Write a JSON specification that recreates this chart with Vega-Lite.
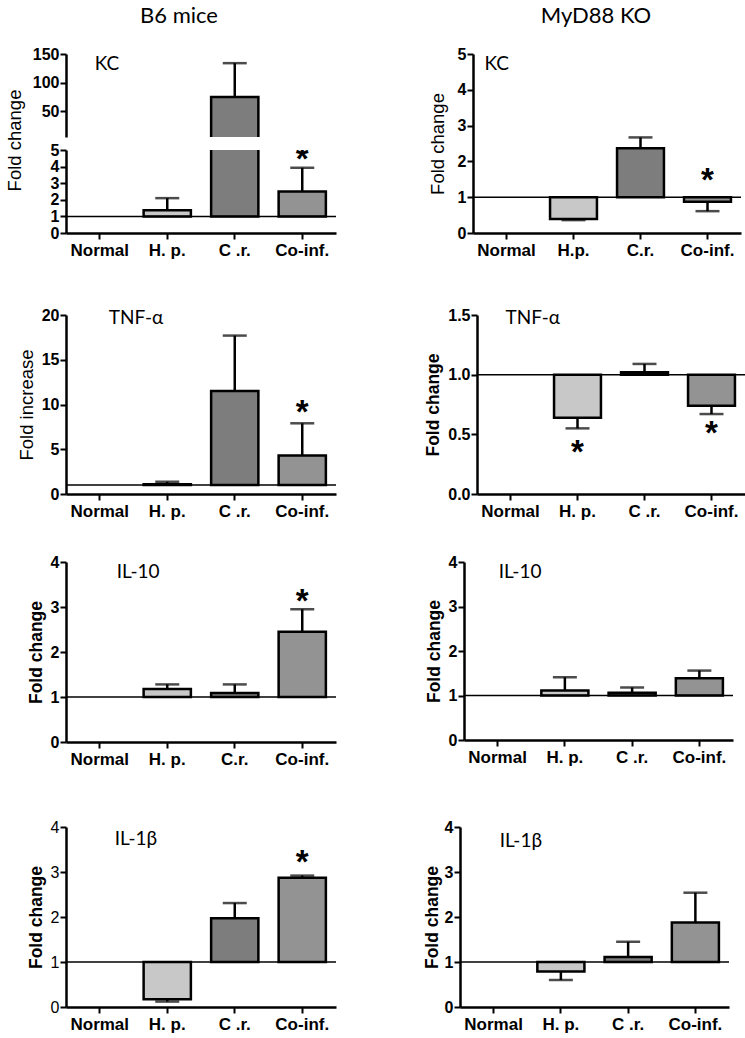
{
"$schema": "https://vega.github.io/schema/vega-lite/v6.json",
"padding": 5,
"background": "white",
"spacing": 35,
"datasets": {
"d": [
{"p":"b6kc","lab":"H. p.","g":"H","v":1.37,"e":2.1},
{"p":"b6kc","lab":"C .r.","g":"C","v":75,"e":134},
{"p":"b6kc","lab":"Co-inf.","g":"I","v":2.5,"e":3.93,"s":4.76},
{"p":"mkc","lab":"H.p.","g":"H","v":0.39,"e":0.36},
{"p":"mkc","lab":"C.r.","g":"C","v":2.37,"e":2.67},
{"p":"mkc","lab":"Co-inf.","g":"I","v":0.87,"e":0.61,"s":1.62},
{"p":"b6tnf","lab":"H. p.","g":"H","v":1.08,"e":1.37},
{"p":"b6tnf","lab":"C .r.","g":"C","v":11.5,"e":17.7},
{"p":"b6tnf","lab":"Co-inf.","g":"I","v":4.3,"e":7.9,"s":9.75},
{"p":"mtnf","lab":"H. p.","g":"H","v":0.64,"e":0.55,"s":0.39},
{"p":"mtnf","lab":"C .r.","g":"C","v":1.02,"e":1.09},
{"p":"mtnf","lab":"Co-inf.","g":"I","v":0.74,"e":0.67,"s":0.55},
{"p":"b6il10","lab":"H. p.","g":"H","v":1.18,"e":1.28},
{"p":"b6il10","lab":"C.r.","g":"C","v":1.09,"e":1.28},
{"p":"b6il10","lab":"Co-inf.","g":"I","v":2.45,"e":2.95,"s":3.24},
{"p":"mil10","lab":"H. p.","g":"H","v":1.11,"e":1.41},
{"p":"mil10","lab":"C .r.","g":"C","v":1.06,"e":1.18},
{"p":"mil10","lab":"Co-inf.","g":"I","v":1.39,"e":1.56},
{"p":"b6il1b","lab":"H. p.","g":"H","v":0.17,"e":0.12},
{"p":"b6il1b","lab":"C .r.","g":"C","v":1.97,"e":2.31},
{"p":"b6il1b","lab":"Co-inf.","g":"I","v":2.87,"e":2.92,"s":3.33},
{"p":"mil1b","lab":"H. p.","g":"H","v":0.79,"e":0.6},
{"p":"mil1b","lab":"C .r.","g":"C","v":1.11,"e":1.45},
{"p":"mil1b","lab":"Co-inf.","g":"I","v":1.88,"e":2.54}
]
},
"vconcat": [
{
"spacing": 49,
"vconcat": [
{
"spacing": 91,
"hconcat": [
{
"title": {"text": "B6 mice", "anchor": "middle", "offset": 18, "dx": 8},
"bounds": "flush",
"spacing": 13,
"vconcat": [
{
"width": 270, "height": 83,
"data": {"name": "d"},
"transform": [{"filter": "datum.p == 'b6kc' && datum.v > 5"}],
"layer": [
{"mark": {"type": "bar", "stroke": "black", "strokeWidth": 2.5, "clip": true},
 "encoding": {
  "x": {"field": "lab", "type": "nominal", "scale": {"domain": ["Normal","H. p.","C .r.","Co-inf."], "paddingInner": 0.3, "paddingOuter": 0.15}, "axis": null},
  "y": {"field": "v", "type": "quantitative", "scale": {"domain": [5,150], "nice": false, "zero": false}, "axis": {"values": [50,100,150], "tickCount": 3, "labelOverlap": false, "titleY": 86, "titleFontWeight": "normal", "titleFontSize": 18.5, "titlePadding": 8}, "title": "Fold change"},
  "y2": {"datum": 1},
  "fill": {"field": "g", "type": "nominal", "scale": {"domain": ["H","C","I"], "range": ["#c8c8c8","#7d7d7d","#939393"]}, "legend": null}}},
{"mark": {"type": "rule", "strokeWidth": 2.5, "color": "black", "clip": true},
 "encoding": {"x": {"field": "lab", "type": "nominal"}, "y": {"field": "v", "type": "quantitative"}, "y2": {"field": "e"}}},
{"mark": {"type": "tick", "thickness": 2.5, "size": 24, "color": "black", "orient": "horizontal", "clip": true},
 "encoding": {"x": {"field": "lab", "type": "nominal"}, "y": {"field": "e", "type": "quantitative"}}},
{"data": {"values": [{"p": "b6kc"}]},
 "mark": {"type": "text", "align": "left", "baseline": "middle", "font": "Lato", "fontSize": 19, "dx": -5, "color": "black"},
 "encoding": {"x": {"datum": "Normal"}, "y": {"datum": 132.5}, "text": {"value": "KC"}}}
]
},
{
"width": 270, "height": 83,
"data": {"name": "d"},
"transform": [{"filter": "datum.p == 'b6kc'"}],
"layer": [
{"mark": {"type": "bar", "stroke": "black", "strokeWidth": 2.5, "clip": true},
 "encoding": {
  "x": {"field": "lab", "type": "nominal", "scale": {"domain": ["Normal","H. p.","C .r.","Co-inf."], "paddingInner": 0.3, "paddingOuter": 0.15}, "axis": {}, "title": null},
  "y": {"field": "v", "type": "quantitative", "scale": {"domain": [0,5], "nice": false}, "axis": {"values": [0,1,2,3,4,5], "tickCount": 6, "labelOverlap": false}, "title": null},
  "y2": {"datum": 1},
  "fill": {"field": "g", "type": "nominal", "legend": null}}},
{"mark": {"type": "rule", "strokeWidth": 2.5, "color": "black", "clip": true},
 "encoding": {"x": {"field": "lab", "type": "nominal"}, "y": {"field": "v", "type": "quantitative"}, "y2": {"field": "e"}}},
{"mark": {"type": "tick", "thickness": 2.5, "size": 24, "color": "black", "orient": "horizontal", "clip": true},
 "encoding": {"x": {"field": "lab", "type": "nominal"}, "y": {"field": "e", "type": "quantitative"}}},
{"data": {"values": [{"p": "b6kc"}]},
 "mark": {"type": "rule", "strokeWidth": 1.5, "color": "black"},
 "encoding": {"y": {"datum": 1}}},
{"transform": [{"filter": "isValid(datum.s)"}],
 "mark": {"type": "text", "text": "*", "font": "Liberation Sans", "fontSize": 33, "fontWeight": "bold", "baseline": "middle", "dy": 6, "color": "black", "clip": true},
 "encoding": {"x": {"field": "lab", "type": "nominal"}, "y": {"field": "s", "type": "quantitative"}}}
]
}
]
},
{
"title": {"text": "MyD88 KO", "anchor": "middle", "offset": 18, "dx": -11},
"width": 268, "height": 179,
"data": {"name": "d"},
"transform": [{"filter": "datum.p == 'mkc'"}],
"layer": [
{"mark": {"type": "bar", "stroke": "black", "strokeWidth": 2.5},
 "encoding": {
  "x": {"field": "lab", "type": "nominal", "scale": {"domain": ["Normal","H.p.","C.r.","Co-inf."], "paddingInner": 0.3, "paddingOuter": 0.15}, "axis": {}, "title": null},
  "y": {"field": "v", "type": "quantitative", "scale": {"domain": [0,5], "nice": false}, "axis": {"values": [0,1,2,3,4,5], "tickCount": 6, "labelOverlap": false, "titleFontWeight": "normal", "titleFontSize": 18.5, "titlePadding": 10}, "title": "Fold change"},
  "y2": {"datum": 1},
  "fill": {"field": "g", "type": "nominal", "legend": null}}},
{"mark": {"type": "rule", "strokeWidth": 2.5, "color": "black"},
 "encoding": {"x": {"field": "lab", "type": "nominal"}, "y": {"field": "v", "type": "quantitative"}, "y2": {"field": "e"}}},
{"mark": {"type": "tick", "thickness": 2.5, "size": 24, "color": "black", "orient": "horizontal"},
 "encoding": {"x": {"field": "lab", "type": "nominal"}, "y": {"field": "e", "type": "quantitative"}}},
{"data": {"values": [{"p": "mkc"}]},
 "mark": {"type": "rule", "strokeWidth": 1.5, "color": "black"},
 "encoding": {"y": {"datum": 1}}},
{"transform": [{"filter": "isValid(datum.s)"}],
 "mark": {"type": "text", "text": "*", "font": "Liberation Sans", "fontSize": 33, "fontWeight": "bold", "baseline": "middle", "dy": 6, "color": "black"},
 "encoding": {"x": {"field": "lab", "type": "nominal"}, "y": {"field": "s", "type": "quantitative"}}},
{"data": {"values": [{"p": "mkc"}]},
 "mark": {"type": "text", "align": "left", "baseline": "middle", "font": "Lato", "fontSize": 19, "dx": -22, "color": "black"},
 "encoding": {"x": {"datum": "Normal"}, "y": {"datum": 4.72}, "text": {"value": "KC"}}}
]
}
]
},
{
"spacing": 87,
"hconcat": [
{
"width": 270, "height": 179,
"data": {"name": "d"},
"transform": [{"filter": "datum.p == 'b6tnf'"}],
"layer": [
{"mark": {"type": "bar", "stroke": "black", "strokeWidth": 2.5},
 "encoding": {
  "x": {"field": "lab", "type": "nominal", "scale": {"domain": ["Normal","H. p.","C .r.","Co-inf."], "paddingInner": 0.3, "paddingOuter": 0.15}, "axis": {}, "title": null},
  "y": {"field": "v", "type": "quantitative", "scale": {"domain": [0,20], "nice": false}, "axis": {"values": [0,5,10,15,20], "tickCount": 5, "labelOverlap": false, "titleFontWeight": "normal", "titleFontSize": 18.5, "titlePadding": 5}, "title": "Fold increase"},
  "y2": {"datum": 1},
  "fill": {"field": "g", "type": "nominal", "legend": null}}},
{"mark": {"type": "rule", "strokeWidth": 2.5, "color": "black"},
 "encoding": {"x": {"field": "lab", "type": "nominal"}, "y": {"field": "v", "type": "quantitative"}, "y2": {"field": "e"}}},
{"mark": {"type": "tick", "thickness": 2.5, "size": 24, "color": "black", "orient": "horizontal"},
 "encoding": {"x": {"field": "lab", "type": "nominal"}, "y": {"field": "e", "type": "quantitative"}}},
{"data": {"values": [{"p": "b6tnf"}]},
 "mark": {"type": "rule", "strokeWidth": 1.5, "color": "black"},
 "encoding": {"y": {"datum": 1}}},
{"transform": [{"filter": "isValid(datum.s)"}],
 "mark": {"type": "text", "text": "*", "font": "Liberation Sans", "fontSize": 33, "fontWeight": "bold", "baseline": "middle", "dy": 6, "color": "black"},
 "encoding": {"x": {"field": "lab", "type": "nominal"}, "y": {"field": "s", "type": "quantitative"}}},
{"data": {"values": [{"p": "b6tnf"}]},
 "mark": {"type": "text", "align": "left", "baseline": "middle", "font": "Lato", "fontSize": 19, "dx": 9, "color": "black"},
 "encoding": {"x": {"datum": "Normal"}, "y": {"datum": 19.7}, "text": {"value": "TNF-α"}}}
]
},
{
"width": 268, "height": 179,
"data": {"name": "d"},
"transform": [{"filter": "datum.p == 'mtnf'"}],
"layer": [
{"mark": {"type": "bar", "stroke": "black", "strokeWidth": 2.5},
 "encoding": {
  "x": {"field": "lab", "type": "nominal", "scale": {"domain": ["Normal","H. p.","C .r.","Co-inf."], "paddingInner": 0.3, "paddingOuter": 0.15}, "axis": {}, "title": null},
  "y": {"field": "v", "type": "quantitative", "scale": {"domain": [0,1.5], "nice": false}, "axis": {"values": [0,0.5,1,1.5], "tickCount": 4, "labelOverlap": false, "format": ".1f", "titleFontWeight": "bold", "titleFontSize": 17.5, "titlePadding": 5}, "title": "Fold change"},
  "y2": {"datum": 1},
  "fill": {"field": "g", "type": "nominal", "legend": null}}},
{"mark": {"type": "rule", "strokeWidth": 2.5, "color": "black"},
 "encoding": {"x": {"field": "lab", "type": "nominal"}, "y": {"field": "v", "type": "quantitative"}, "y2": {"field": "e"}}},
{"mark": {"type": "tick", "thickness": 2.5, "size": 24, "color": "black", "orient": "horizontal"},
 "encoding": {"x": {"field": "lab", "type": "nominal"}, "y": {"field": "e", "type": "quantitative"}}},
{"data": {"values": [{"p": "mtnf"}]},
 "mark": {"type": "rule", "strokeWidth": 1.5, "color": "black"},
 "encoding": {"y": {"datum": 1}}},
{"transform": [{"filter": "isValid(datum.s)"}],
 "mark": {"type": "text", "text": "*", "font": "Liberation Sans", "fontSize": 33, "fontWeight": "bold", "baseline": "middle", "dy": 6, "color": "black"},
 "encoding": {"x": {"field": "lab", "type": "nominal"}, "y": {"field": "s", "type": "quantitative"}}},
{"data": {"values": [{"p": "mtnf"}]},
 "mark": {"type": "text", "align": "left", "baseline": "middle", "font": "Lato", "fontSize": 19, "dx": -5, "color": "black"},
 "encoding": {"x": {"datum": "Normal"}, "y": {"datum": 1.475}, "text": {"value": "TNF-α"}}}
]
}
]
}
]
},
{
"spacing": 52,
"vconcat": [
{
"spacing": 88,
"hconcat": [
{
"width": 270, "height": 180,
"data": {"name": "d"},
"transform": [{"filter": "datum.p == 'b6il10'"}],
"layer": [
{"mark": {"type": "bar", "stroke": "black", "strokeWidth": 2.5},
 "encoding": {
  "x": {"field": "lab", "type": "nominal", "scale": {"domain": ["Normal","H. p.","C.r.","Co-inf."], "paddingInner": 0.3, "paddingOuter": 0.15}, "axis": {}, "title": null},
  "y": {"field": "v", "type": "quantitative", "scale": {"domain": [0,4], "nice": false}, "axis": {"values": [0,1,2,3,4], "tickCount": 5, "labelOverlap": false, "titleFontWeight": "bold", "titleFontSize": 17.5, "titlePadding": 5}, "title": "Fold change"},
  "y2": {"datum": 1},
  "fill": {"field": "g", "type": "nominal", "legend": null}}},
{"mark": {"type": "rule", "strokeWidth": 2.5, "color": "black"},
 "encoding": {"x": {"field": "lab", "type": "nominal"}, "y": {"field": "v", "type": "quantitative"}, "y2": {"field": "e"}}},
{"mark": {"type": "tick", "thickness": 2.5, "size": 24, "color": "black", "orient": "horizontal"},
 "encoding": {"x": {"field": "lab", "type": "nominal"}, "y": {"field": "e", "type": "quantitative"}}},
{"data": {"values": [{"p": "b6il10"}]},
 "mark": {"type": "rule", "strokeWidth": 1.5, "color": "black"},
 "encoding": {"y": {"datum": 1}}},
{"transform": [{"filter": "isValid(datum.s)"}],
 "mark": {"type": "text", "text": "*", "font": "Liberation Sans", "fontSize": 33, "fontWeight": "bold", "baseline": "middle", "dy": 6, "color": "black"},
 "encoding": {"x": {"field": "lab", "type": "nominal"}, "y": {"field": "s", "type": "quantitative"}}},
{"data": {"values": [{"p": "b6il10"}]},
 "mark": {"type": "text", "align": "left", "baseline": "middle", "font": "Lato", "fontSize": 19, "dx": 17, "color": "black"},
 "encoding": {"x": {"datum": "Normal"}, "y": {"datum": 3.78}, "text": {"value": "IL-10"}}}
]
},
{
"width": 269, "height": 178,
"data": {"name": "d"},
"transform": [{"filter": "datum.p == 'mil10'"}],
"layer": [
{"mark": {"type": "bar", "stroke": "black", "strokeWidth": 2.5},
 "encoding": {
  "x": {"field": "lab", "type": "nominal", "scale": {"domain": ["Normal","H. p.","C .r.","Co-inf."], "paddingInner": 0.3, "paddingOuter": 0.15}, "axis": {}, "title": null},
  "y": {"field": "v", "type": "quantitative", "scale": {"domain": [0,4], "nice": false}, "axis": {"values": [0,1,2,3,4], "tickCount": 5, "labelOverlap": false, "titleFontWeight": "bold", "titleFontSize": 17.5, "titlePadding": 5}, "title": "Fold change"},
  "y2": {"datum": 1},
  "fill": {"field": "g", "type": "nominal", "legend": null}}},
{"mark": {"type": "rule", "strokeWidth": 2.5, "color": "black"},
 "encoding": {"x": {"field": "lab", "type": "nominal"}, "y": {"field": "v", "type": "quantitative"}, "y2": {"field": "e"}}},
{"mark": {"type": "tick", "thickness": 2.5, "size": 24, "color": "black", "orient": "horizontal"},
 "encoding": {"x": {"field": "lab", "type": "nominal"}, "y": {"field": "e", "type": "quantitative"}}},
{"data": {"values": [{"p": "mil10"}]},
 "mark": {"type": "rule", "strokeWidth": 1.5, "color": "black"},
 "encoding": {"y": {"datum": 1}}},
{"data": {"values": [{"p": "mil10"}]},
 "mark": {"type": "text", "align": "left", "baseline": "middle", "font": "Lato", "fontSize": 19, "dx": 1, "color": "black"},
 "encoding": {"x": {"datum": "Normal"}, "y": {"datum": 3.77}, "text": {"value": "IL-10"}}}
]
}
]
},
{
"spacing": 86,
"hconcat": [
{
"width": 270, "height": 180,
"data": {"name": "d"},
"transform": [{"filter": "datum.p == 'b6il1b'"}],
"layer": [
{"mark": {"type": "bar", "stroke": "black", "strokeWidth": 2.5},
 "encoding": {
  "x": {"field": "lab", "type": "nominal", "scale": {"domain": ["Normal","H. p.","C .r.","Co-inf."], "paddingInner": 0.3, "paddingOuter": 0.15}, "axis": {}, "title": null},
  "y": {"field": "v", "type": "quantitative", "scale": {"domain": [0,4], "nice": false}, "axis": {"values": [0,1,2,3,4], "tickCount": 5, "labelOverlap": false, "labelFontWeight": "normal", "titleFontWeight": "bold", "titleFontSize": 17.5, "titlePadding": 5}, "title": "Fold change"},
  "y2": {"datum": 1},
  "fill": {"field": "g", "type": "nominal", "legend": null}}},
{"mark": {"type": "rule", "strokeWidth": 2.5, "color": "black"},
 "encoding": {"x": {"field": "lab", "type": "nominal"}, "y": {"field": "v", "type": "quantitative"}, "y2": {"field": "e"}}},
{"mark": {"type": "tick", "thickness": 2.5, "size": 24, "color": "black", "orient": "horizontal"},
 "encoding": {"x": {"field": "lab", "type": "nominal"}, "y": {"field": "e", "type": "quantitative"}}},
{"data": {"values": [{"p": "b6il1b"}]},
 "mark": {"type": "rule", "strokeWidth": 1.5, "color": "black"},
 "encoding": {"y": {"datum": 1}}},
{"transform": [{"filter": "isValid(datum.s)"}],
 "mark": {"type": "text", "text": "*", "font": "Liberation Sans", "fontSize": 33, "fontWeight": "bold", "baseline": "middle", "dy": 6, "color": "black"},
 "encoding": {"x": {"field": "lab", "type": "nominal"}, "y": {"field": "s", "type": "quantitative"}}},
{"data": {"values": [{"p": "b6il1b"}]},
 "mark": {"type": "text", "align": "left", "baseline": "middle", "font": "Lato", "fontSize": 19, "dx": 15, "color": "black"},
 "encoding": {"x": {"datum": "Normal"}, "y": {"datum": 3.73}, "text": {"value": "IL-1β"}}}
]
},
{
"width": 269, "height": 180,
"data": {"name": "d"},
"transform": [{"filter": "datum.p == 'mil1b'"}],
"layer": [
{"mark": {"type": "bar", "stroke": "black", "strokeWidth": 2.5},
 "encoding": {
  "x": {"field": "lab", "type": "nominal", "scale": {"domain": ["Normal","H. p.","C .r.","Co-inf."], "paddingInner": 0.3, "paddingOuter": 0.15}, "axis": {}, "title": null},
  "y": {"field": "v", "type": "quantitative", "scale": {"domain": [0,4], "nice": false}, "axis": {"values": [0,1,2,3,4], "tickCount": 5, "labelOverlap": false, "titleFontWeight": "bold", "titleFontSize": 17.5, "titlePadding": 3}, "title": "Fold change"},
  "y2": {"datum": 1},
  "fill": {"field": "g", "type": "nominal", "legend": null}}},
{"mark": {"type": "rule", "strokeWidth": 2.5, "color": "black"},
 "encoding": {"x": {"field": "lab", "type": "nominal"}, "y": {"field": "v", "type": "quantitative"}, "y2": {"field": "e"}}},
{"mark": {"type": "tick", "thickness": 2.5, "size": 24, "color": "black", "orient": "horizontal"},
 "encoding": {"x": {"field": "lab", "type": "nominal"}, "y": {"field": "e", "type": "quantitative"}}},
{"data": {"values": [{"p": "mil1b"}]},
 "mark": {"type": "rule", "strokeWidth": 1.5, "color": "black"},
 "encoding": {"y": {"datum": 1}}},
{"data": {"values": [{"p": "mil1b"}]},
 "mark": {"type": "text", "align": "left", "baseline": "middle", "font": "Lato", "fontSize": 19, "dx": 6, "color": "black"},
 "encoding": {"x": {"datum": "Normal"}, "y": {"datum": 3.68}, "text": {"value": "IL-1β"}}}
]
}
]
}
]
}
],
"config": {
"view": {"stroke": null},
"axis": {"domainColor": "black", "domainWidth": 2.5, "tickColor": "black", "tickWidth": 2, "tickSize": 6, "labelColor": "black", "labelFont": "Liberation Sans", "labelFontWeight": "bold", "labelOverlap": false, "titleColor": "black", "titleFont": "Liberation Sans", "grid": false},
"axisX": {"labelAngle": 0, "labelFontSize": 17, "labelPadding": 3},
"axisY": {"labelFontSize": 16, "labelPadding": 1},
"title": {"font": "Lato", "fontSize": 22, "fontWeight": "normal", "color": "black"}
}
}
